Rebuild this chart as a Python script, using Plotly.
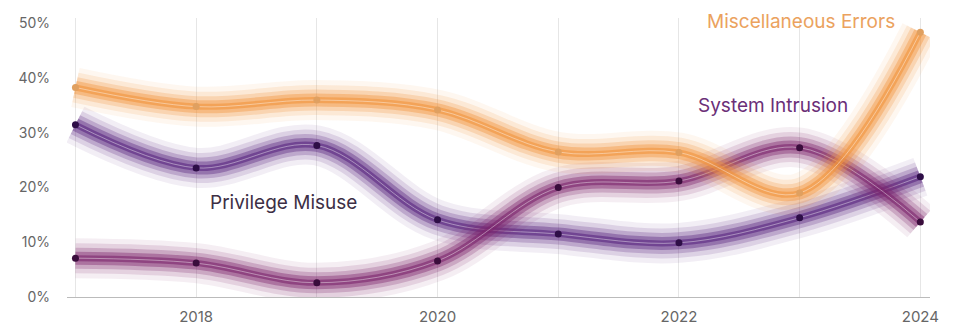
import plotly.graph_objects as go

years = [2017, 2018, 2019, 2020, 2021, 2022, 2023, 2024]
misc_errors = [38.3, 34.8, 36.0, 34.2, 26.5, 26.4, 19.0, 48.4]
privilege_misuse = [31.5, 23.6, 27.7, 14.1, 11.5, 9.9, 14.5, 22.0]
system_intrusion = [7.1, 6.2, 2.6, 6.6, 20.0, 21.2, 27.3, 13.7]
y_ticks = [0, 10, 20, 30, 40, 50]
y_tick_labels = ["0%", "10%", "20%", "30%", "40%", "50%"]

series = [
    ("Privilege Misuse", privilege_misuse, "rgba(90,38,128,{a})", "#2e0e47"),
    ("System Intrusion", system_intrusion, "rgba(124,36,108,{a})", "#3a0d3c"),
    ("Miscellaneous Errors", misc_errors, "rgba(242,148,60,{a})", "#e0a060"),
]

fig = go.Figure()
FONT = "Inter, Liberation Sans, sans-serif"

for name, vals, col, mk in series:
    layers = [(40, 0.08), (30, 0.14), (21, 0.24), (13, 0.4), (6, 0.6)]
    for w, a in layers:
        fig.add_trace(go.Scatter(
            x=years, y=vals, mode="lines",
            line=dict(color=col.format(a=a), width=w, shape="spline", smoothing=1.0),
            hoverinfo="skip", showlegend=False))
    fig.add_trace(go.Scatter(
        x=years, y=vals, mode="lines",
        line=dict(color="rgba(255,255,255,0.4)", width=1, shape="spline", smoothing=1.0),
        hoverinfo="skip", showlegend=False))
    fig.add_trace(go.Scatter(
        x=years, y=vals, mode="markers", name=name,
        marker=dict(color=mk, size=7, symbol="circle"),
        showlegend=False))

fig.add_annotation(x=2023.01, y=50.4, text="Miscellaneous Errors", showarrow=False,
                   font=dict(family=FONT, size=19, color="#eba25e"), xanchor="center", yanchor="middle")
fig.add_annotation(x=2022.78, y=35.0, text="System Intrusion", showarrow=False,
                   font=dict(family=FONT, size=19, color="#6b2f78"), xanchor="center", yanchor="middle")
fig.add_annotation(x=2018.72, y=17.2, text="Privilege Misuse", showarrow=False,
                   font=dict(family=FONT, size=19, color="#3d2f45"), xanchor="center", yanchor="middle")

# page body has an 8px margin, so the figure is sized to fit the 957x328 window
fig.update_layout(
    width=949, height=320,
    margin=dict(l=59, r=27, t=10, b=31, autoexpand=False),
    paper_bgcolor="white", plot_bgcolor="white",
    font=dict(family=FONT, size=14, color="#666666"),
    xaxis=dict(range=[2016.93, 2024.08], tickvals=years,
               ticktext=["", "2018", "", "2020", "", "2022", "", "2024"],
               tickfont=dict(size=15),
               showgrid=True, gridcolor="#e6e6e6", gridwidth=1,
               showline=True, linecolor="#bbbbbb", linewidth=1,
               zeroline=False, ticks="", ticklabelstandoff=6, automargin=False),
    yaxis=dict(range=[0, 51], tickvals=y_ticks, ticktext=y_tick_labels,
               showgrid=False, zeroline=False, showline=False,
               ticks="", ticklabelstandoff=16, automargin=False),
)

fig.write_html("out.html")
